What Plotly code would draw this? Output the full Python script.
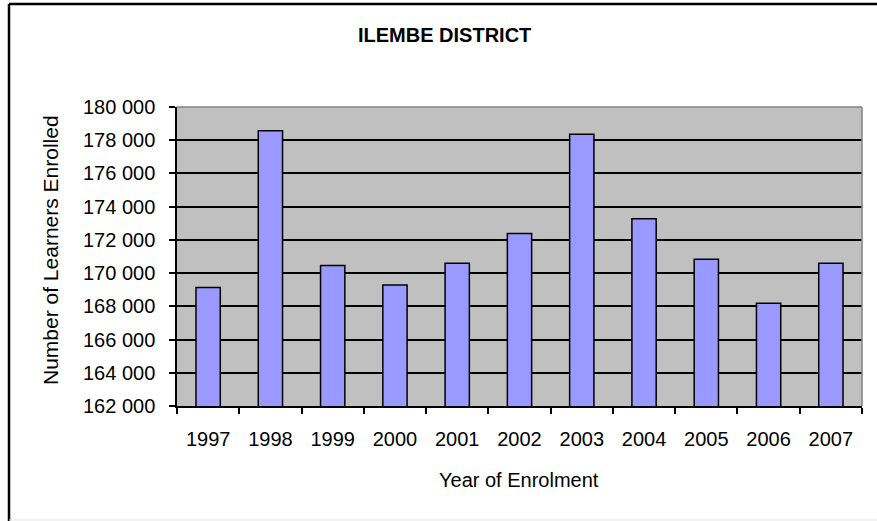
import plotly.graph_objects as go

years = ["1997", "1998", "1999", "2000", "2001", "2002", "2003", "2004", "2005", "2006", "2007"]
learners = [169140, 178570, 170460, 169280, 170600, 172380, 178360, 173280, 170840, 168190, 170600]
y_ticks = [162000, 164000, 166000, 168000, 170000, 172000, 174000, 176000, 178000, 180000]

W, H = 877, 521
L, R, T, B = 177, 15, 107, 115
pw, ph = W - L - R, H - T - B

def px(x):
    return (x - L) / pw

def py(y):
    return (H - B - y) / ph

font = "Liberation Sans, Arial, sans-serif"

fig = go.Figure(go.Bar(
    x=years, y=learners,
    marker=dict(color="#9999FF", line=dict(color="black", width=1.5)),
    hoverinfo="skip",
))

fig.update_layout(
    width=W, height=H,
    margin=dict(l=L, r=R, t=T, b=B),
    paper_bgcolor="white", plot_bgcolor="#C0C0C0",
    separators=". ",
    bargap=0.61,
    showlegend=False,
    font=dict(family=font, size=20, color="black"),
)
fig.update_yaxes(
    range=[162000, 180000], tickvals=y_ticks, tickformat=",d",
    showgrid=True, gridcolor="black", gridwidth=1.5,
    showline=True, linecolor="black", linewidth=1.5,
    ticks="outside", ticklen=6, tickcolor="black", tickwidth=1.5,
    ticklabelstandoff=10, zeroline=False,
)
fig.update_xaxes(
    tickson="boundaries",
    showline=True, linecolor="black", linewidth=1.5,
    ticks="outside", ticklen=6, tickcolor="black", tickwidth=1.5,
    ticklabelstandoff=14, showgrid=False,
)

shapes = [
    dict(type="line", xref="paper", yref="paper", x0=0, x1=1, y0=1, y1=1, line=dict(color="#808080", width=1.5)),
    dict(type="line", xref="paper", yref="paper", x0=1, x1=1, y0=0, y1=1, line=dict(color="#808080", width=1.5)),
    dict(type="line", xref="paper", yref="paper", x0=px(9), x1=px(W + 5), y0=py(4), y1=py(4), line=dict(color="black", width=2.5)),
    dict(type="line", xref="paper", yref="paper", x0=px(9), x1=px(9), y0=py(4), y1=py(H + 5), line=dict(color="black", width=2.5)),
    dict(type="line", xref="paper", yref="paper", x0=px(9), x1=px(W + 5), y0=py(520), y1=py(520), line=dict(color="#E6E6E6", width=1)),
]

annotations = [
    dict(text="<b>ILEMBE DISTRICT</b>", xref="paper", yref="paper", x=px(444), y=py(35),
         showarrow=False, font=dict(size=20), xanchor="center", yanchor="middle"),
    dict(text="Year of Enrolment", xref="paper", yref="paper", x=px(519), y=py(480),
         showarrow=False, font=dict(size=20), xanchor="center", yanchor="middle"),
    dict(text="Number of Learners Enrolled", xref="paper", yref="paper", x=px(50), y=py(250),
         showarrow=False, font=dict(size=21), textangle=-90, xanchor="center", yanchor="middle"),
]

fig.update_layout(shapes=shapes, annotations=annotations)
fig.write_html("out.html", config={"displayModeBar": False},
               post_script="document.body.style.margin='0';")
